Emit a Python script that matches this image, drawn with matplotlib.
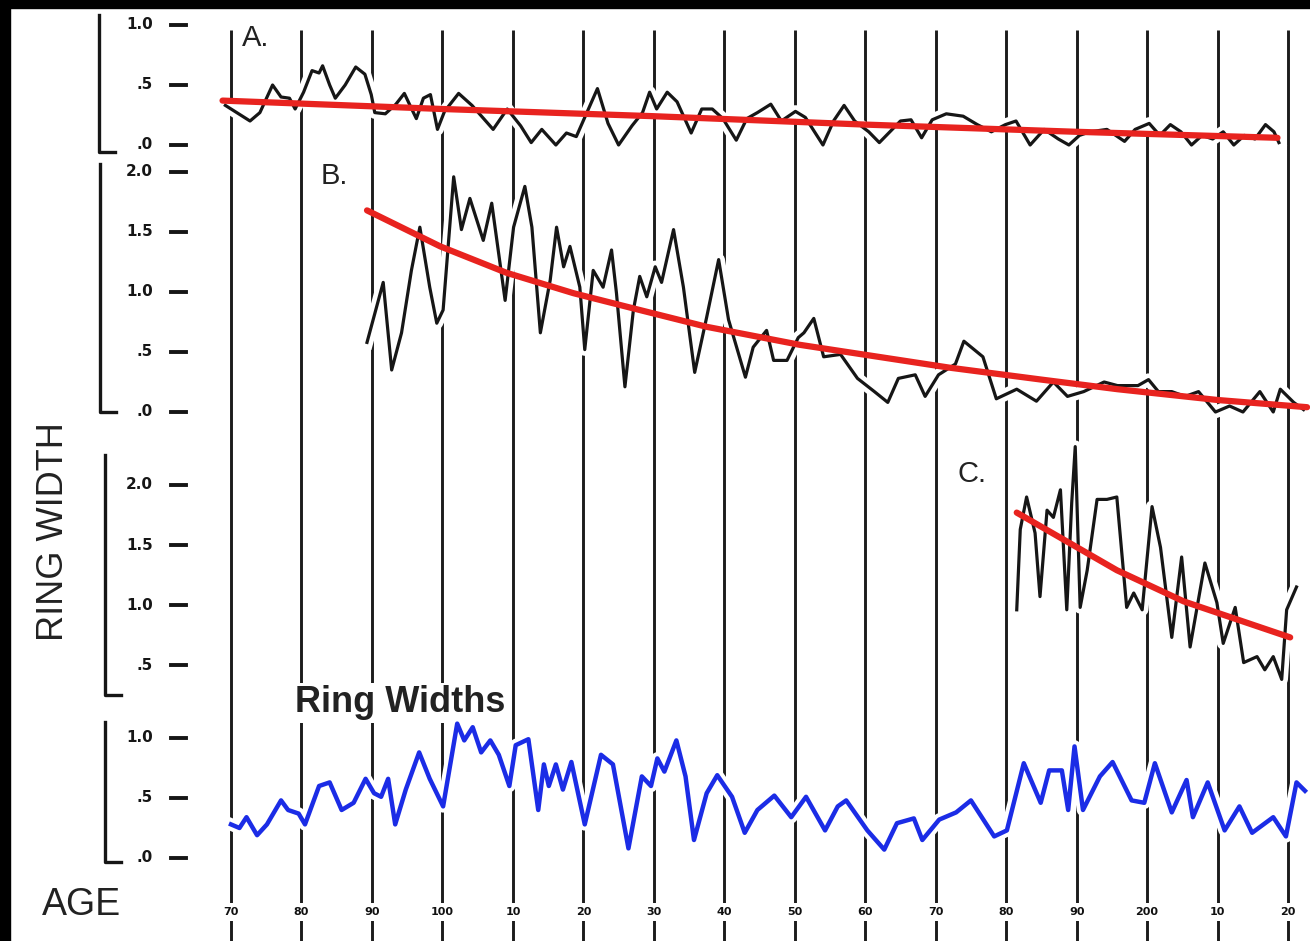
import matplotlib
matplotlib.use('Agg')
import matplotlib.pyplot as plt
import matplotlib.patheffects as pe
from matplotlib.transforms import blended_transform_factory as blend
from matplotlib.patches import Rectangle

# ---- data (age in years, ring width in mm) ----
A_age = [69.2, 72.7, 74.1, 75.9, 77.1, 78.3, 79.1, 80.3, 81.5, 82.5, 83.0, 84.0, 84.8, 86.2,
         87.7, 89.0, 89.9, 90.4, 91.9, 93.4, 94.6, 95.4, 96.3, 97.3, 98.3, 99.3, 100.3, 102.3,
         104.2, 107.2, 109.2, 111.1, 112.6, 114.1, 116.1, 117.6, 119.0, 120.5, 122.0, 123.5,
         125.0, 126.9, 128.4, 129.4, 130.4, 131.9, 133.3, 135.3, 136.8, 138.3, 139.8, 141.7,
         143.2, 144.7, 146.6, 148.1, 150.1, 151.5, 154.0, 155.5, 157.0, 158.5, 160.5, 162.0,
         163.5, 165.0, 166.5, 168.0, 169.5, 171.5, 173.9, 175.9, 177.9, 179.9, 181.4, 183.4,
         185.4, 187.4, 188.9, 190.4, 191.9, 194.3, 196.8, 198.3, 200.3, 201.8, 203.3, 204.8,
         206.3, 207.8, 209.3, 210.8, 212.3, 213.8, 215.3, 216.8, 218.0, 218.7]
A_val = [.33, .20, .27, .50, .40, .39, .30, .44, .62, .60, .66, .50, .39, .50,
         .65, .59, .42, .27, .26, .34, .43, .33, .22, .39, .42, .13, .28, .43,
         .33, .13, .30, .16, .02, .13, .0, .10, .07, .27, .47, .18,
         .0, .16, .27, .44, .30, .44, .36, .10, .30, .30, .22, .04,
         .22, .27, .34, .20, .28, .23, .0, .20, .33, .20, .11, .02,
         .11, .20, .21, .06, .21, .26, .24, .17, .11, .17, .20, .0,
         .13, .05, .0, .08, .11, .13, .03, .13, .18, .08, .17, .11,
         .0, .08, .05, .11, .0, .08, .05, .17, .11, .02]
A_trend_age = [68.8, 100, 130, 160, 190, 218.5]
A_trend_val = [.37, .30, .24, .17, .11, .06]

B_age = [89.3, 91.6, 92.8, 94.2, 95.6, 96.8, 98.2, 99.2, 100.1, 101.6, 102.7, 103.9, 105.8,
         107.0, 108.9, 110.1, 111.7, 112.7, 113.9, 115.3, 116.2, 117.2, 118.1, 119.5, 120.2,
         121.4, 122.8, 124.0, 124.7, 125.9, 127.1, 128.0, 129.0, 130.2, 131.1, 132.8, 134.2,
         135.8, 137.5, 139.2, 140.6, 143.0, 144.1, 146.0, 147.0, 148.9, 150.5, 151.3, 152.7,
         154.1, 156.5, 158.9, 161.3, 163.2, 164.7, 167.1, 168.5, 170.4, 172.8, 174.0, 176.7,
         178.6, 181.5, 184.3, 186.7, 188.7, 191.0, 193.9, 195.8, 198.7, 200.2, 201.6, 203.5,
         205.4, 207.3, 209.7, 211.7, 213.6, 216.0, 217.9, 218.9, 220.8, 222.2]
B_val = [.58, 1.08, .35, .66, 1.18, 1.54, 1.04, .74, .85, 1.96, 1.52, 1.78, 1.43,
         1.74, .93, 1.54, 1.88, 1.54, .66, 1.10, 1.54, 1.21, 1.38, 1.04, .52,
         1.18, 1.04, 1.35, .99, .21, .85, 1.13, .96, 1.21, 1.08, 1.52, 1.04,
         .33, .79, 1.27, .77, .29, .54, .68, .43, .43, .62, .66, .78,
         .46, .48, .28, .17, .08, .28, .31, .13, .31, .40, .59, .46,
         .11, .19, .09, .25, .13, .17, .25, .22, .22, .27, .17, .17,
         .13, .17, .0, .05, .0, .17, .0, .19, .08, .02]
B_trend_age = [89.3, 99.7, 109.1, 118.6, 128.0, 137.5, 150.7, 171.9, 185.0, 195.8, 210.0, 222.7]
B_trend_val = [1.68, 1.38, 1.16, .99, .85, .71, .56, .37, .27, .19, .10, .04]

C_age = [181.5, 182.0, 182.9, 184.1, 184.8, 185.8, 186.7, 187.7, 188.6, 189.3, 189.8, 190.5,
         191.5, 192.9, 194.3, 195.7, 197.1, 198.1, 199.3, 200.7, 201.9, 203.5, 204.9, 206.1,
         208.2, 209.9, 210.8, 212.5, 213.7, 215.6, 216.7, 217.9, 219.1, 219.8, 221.2]
C_val = [.96, 1.63, 1.90, 1.60, 1.07, 1.79, 1.73, 1.96, .96, 1.85, 2.32, .98,
         1.29, 1.88, 1.88, 1.90, .98, 1.10, .96, 1.82, 1.48, .73, 1.40, .65,
         1.35, 1.02, .68, .98, .52, .57, .46, .57, .38, .96, 1.15]
C_trend_age = [181.5, 195.7, 205.2, 220.3]
C_trend_val = [1.77, 1.29, 1.03, .73]

RW_age = [70.0, 71.2, 72.2, 73.7, 75.1, 77.1, 78.1, 79.6, 80.5, 82.5, 84.0, 85.7, 87.4, 89.1,
          90.3, 91.3, 92.3, 93.3, 94.8, 96.7, 98.2, 100.1, 102.1, 103.1, 104.3, 105.5, 106.8,
          108.0, 109.5, 110.4, 112.2, 113.6, 114.4, 115.1, 116.1, 117.1, 118.3, 120.2, 122.5,
          124.2, 126.4, 128.3, 129.6, 130.5, 131.5, 133.2, 134.5, 135.7, 137.5, 139.0, 141.1,
          142.9, 144.7, 147.1, 149.5, 151.6, 154.3, 156.1, 157.3, 160.3, 162.7, 164.5, 166.9,
          168.1, 170.5, 172.9, 175.0, 178.3, 180.1, 182.5, 184.9, 186.1, 187.9, 188.8, 189.7,
          190.9, 193.3, 195.1, 197.8, 199.6, 201.1, 203.5, 205.6, 206.5, 208.6, 211.0, 213.1,
          214.9, 217.9, 219.7, 221.2, 222.4]
RW_val = [.28, .25, .34, .19, .28, .48, .40, .37, .28, .60, .63, .40, .46, .66,
          .54, .51, .66, .28, .57, .88, .66, .43, 1.12, .98, 1.09, .88, .98,
          .86, .60, .94, .99, .40, .78, .60, .78, .57, .80, .28, .86,
          .78, .08, .68, .60, .83, .72, .98, .68, .15, .54, .69, .51,
          .21, .40, .52, .34, .51, .23, .43, .48, .23, .07, .29, .33,
          .15, .32, .38, .48, .18, .23, .79, .46, .73, .73, .40, .93,
          .40, .68, .80, .48, .46, .79, .38, .65, .34, .63, .23, .43,
          .21, .34, .18, .63, .56]

AGE_TICKS = list(range(70, 221, 10))
AGE_LABELS = ['70', '80', '90', '100', '10', '20', '30', '40', '50', '60',
              '70', '80', '90', '200', '10', '20']

# ---- layout of the scan, in pixels ----
W, H = 1310, 941
PX70, PXYR = 231, 7.047      # x pixel of age 70, pixels per year
SCALE = 120                  # pixels per mm of ring width
INK = '#161616'
RED = '#e8231f'
BLUE = '#1b2ce6'


def age_at(px):
    return 70 + (px - PX70) / PXYR


XLIM = (age_at(0), age_at(W))

fig = plt.figure(figsize=(W / 100, H / 100), dpi=100)
fig.patch.set_facecolor('white')

# background: decade lines and age labels (y in pixels)
bg = fig.add_axes([0, 0, 1, 1])
bg.set_xlim(*XLIM)
bg.set_ylim(H, 0)
bg.axis('off')
bg.vlines(AGE_TICKS, 30, H, color='#1c1c1c', lw=2.1)
for a, lab in zip(AGE_TICKS, AGE_LABELS):
    bg.text(a, 912, lab, ha='center', va='center', fontsize=8, fontweight='bold',
            color='#111', bbox=dict(boxstyle='square,pad=0.35', fc='white', ec='none'))

txt = dict(family='Liberation Sans', color='#222')
box = dict(fc='white', ec='none', pad=1)
bg.text(age_at(256), 38, 'A.', fontsize=21, ha='center', va='center', bbox=box, **txt)
bg.text(age_at(334), 176, 'B.', fontsize=21, ha='center', va='center', bbox=box, **txt)
bg.text(age_at(972), 474, 'C.', fontsize=21, ha='center', va='center', bbox=box, **txt)
bg.text(age_at(400), 703, 'Ring Widths', fontsize=26, fontweight='bold', ha='center',
        va='center', bbox=dict(fc='white', ec='none', pad=2), **txt)
bg.text(age_at(54), 532, 'RING WIDTH', fontsize=26, rotation=90, ha='center', va='center', **txt)
bg.text(age_at(81), 905, 'AGE', fontsize=27, ha='center', va='center', **txt)


def panel(zero_px):
    ax = fig.add_axes([0, 0, 1, 1], facecolor='none')
    ax.set_xlim(*XLIM)
    ax.set_ylim((zero_px - H) / SCALE, zero_px / SCALE)
    ax.axis('off')
    return ax


def yscale(ax, ticks, labels, lo, hi, xb):
    tr = blend(fig.transFigure, ax.transData)
    ax.plot([xb / W, xb / W, (xb + 16) / W], [hi, lo, lo], transform=tr,
            color=INK, lw=2.4, clip_on=False)
    for t, lab in zip(ticks, labels):
        ax.text(153 / W, t, lab, transform=tr, ha='right', va='center',
                fontsize=11, fontweight='bold', color=INK)
        ax.plot([171 / W, 186 / W], [t, t], transform=tr, color=INK, lw=2.8,
                clip_on=False)


halo = [pe.Stroke(linewidth=9, foreground='white'), pe.Normal()]
curve = dict(lw=2.3, solid_joinstyle='round', path_effects=halo)
trend = dict(color=RED, lw=4.5, solid_capstyle='round')

axA = panel(145)
yscale(axA, [0, .5, 1.0], ['.0', '.5', '1.0'], -0.06, 1.08, 99)
axA.plot(A_age, A_val, color=INK, **curve)
axA.plot(A_trend_age, A_trend_val, **trend)

axB = panel(412)
yscale(axB, [0, .5, 1.0, 1.5, 2.0], ['.0', '.5', '1.0', '1.5', '2.0'], 0.0, 2.07, 100)
axB.plot(B_age, B_val, color=INK, **curve)
axB.plot(B_trend_age, B_trend_val, **trend)

axC = panel(725)
yscale(axC, [.5, 1.0, 1.5, 2.0], ['.5', '1.0', '1.5', '2.0'], 0.25, 2.25, 105)
axC.plot(C_age, C_val, color=INK, **curve)
axC.plot(C_trend_age, C_trend_val, **trend)

axR = panel(858)
yscale(axR, [0, .5, 1.0], ['.0', '.5', '1.0'], -0.03, 1.13, 105)
axR.plot(RW_age, RW_val, color=BLUE, lw=3.2, solid_joinstyle='round', path_effects=halo)

# dark scan border on the top and left edges
fig.add_artist(Rectangle((0, 1 - 8 / H), 1, 8 / H, transform=fig.transFigure, color='black'))
fig.add_artist(Rectangle((0, 0), 10 / W, 1, transform=fig.transFigure, color='black'))

fig.savefig('out.png', dpi=100)
